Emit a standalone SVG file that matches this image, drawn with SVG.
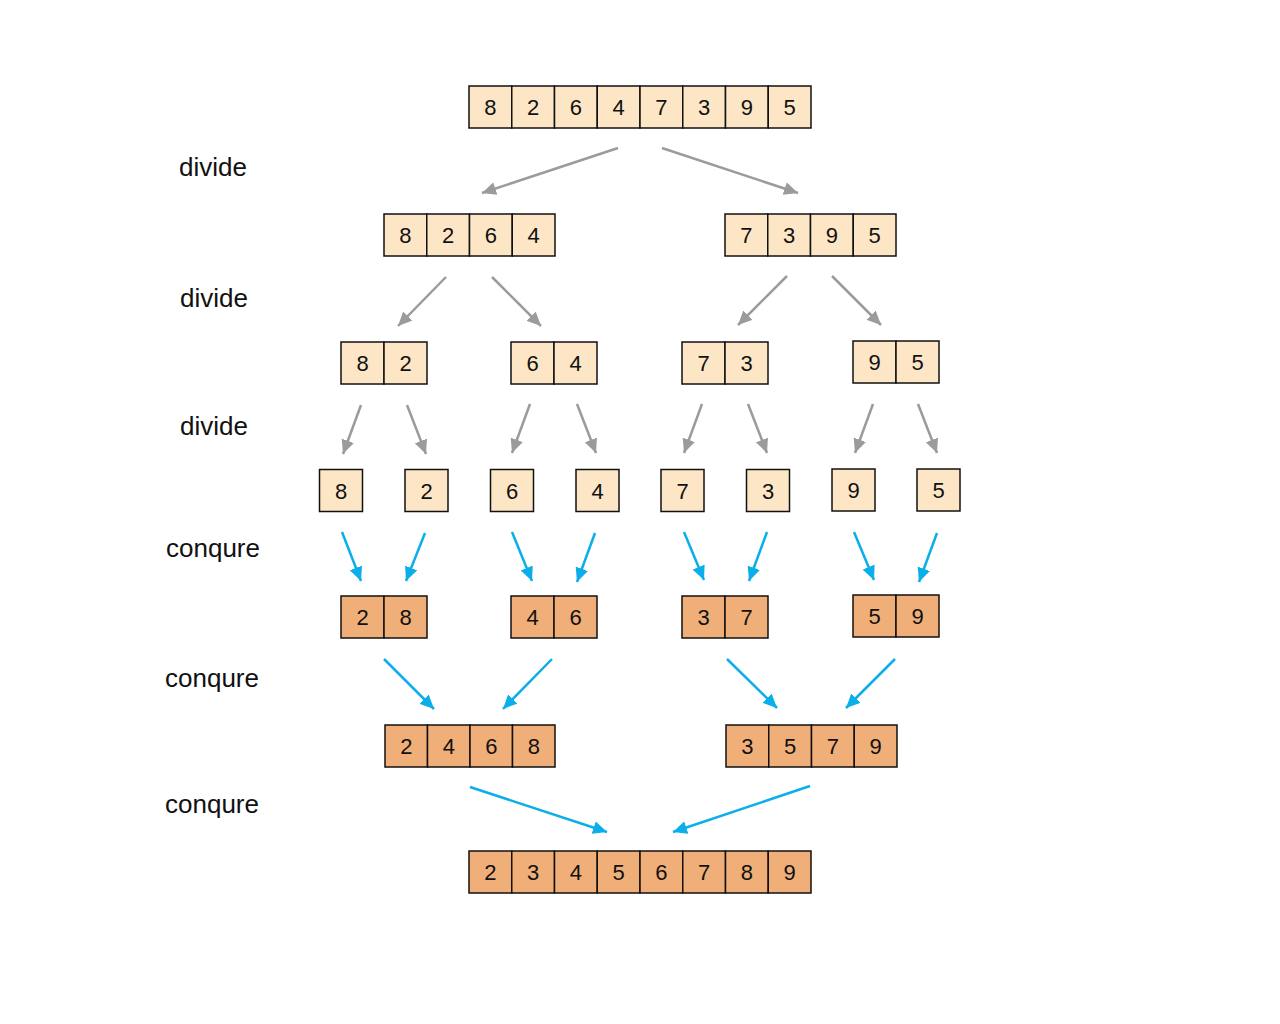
<svg xmlns="http://www.w3.org/2000/svg" width="1280" height="1024" viewBox="0 0 1280 1024">
<style>
.l{fill:#FDE6C6;stroke:#111;stroke-width:1.5}
.o{fill:#F0AE78;stroke:#111;stroke-width:1.5}
.d{font-family:"Liberation Sans",Arial,sans-serif;font-size:22px;fill:#111;text-anchor:middle}
.lab{font-family:"Liberation Sans",Arial,sans-serif;font-size:26px;fill:#111;text-anchor:middle}
.g{stroke:#9B9B9B;stroke-width:2.5;fill:none;marker-end:url(#ag)}
.b{stroke:#0AAEE8;stroke-width:2.5;fill:none;marker-end:url(#ab)}
</style>
<defs>
<marker id="ag" markerUnits="userSpaceOnUse" markerWidth="15" markerHeight="13" refX="14" refY="6.5" orient="auto"><path d="M0,0 L14,6.5 L0,13 Z" fill="#9B9B9B"/></marker>
<marker id="ab" markerUnits="userSpaceOnUse" markerWidth="15" markerHeight="13" refX="14" refY="6.5" orient="auto"><path d="M0,0 L14,6.5 L0,13 Z" fill="#0AAEE8"/></marker>
</defs>
<rect width="1280" height="1024" fill="#fff"/>
<g id="labels">
<text class="lab" x="213" y="176">divide</text>
<text class="lab" x="214" y="307">divide</text>
<text class="lab" x="214" y="435">divide</text>
<text class="lab" x="213" y="557">conqure</text>
<text class="lab" x="212" y="687">conqure</text>
<text class="lab" x="212" y="813">conqure</text>
</g>
<g id="n1">
<rect class="l" x="469" y="86" width="42.75" height="42"/><rect class="l" x="511.75" y="86" width="42.75" height="42"/><rect class="l" x="554.5" y="86" width="42.75" height="42"/><rect class="l" x="597.25" y="86" width="42.75" height="42"/><rect class="l" x="640" y="86" width="42.75" height="42"/><rect class="l" x="682.75" y="86" width="42.75" height="42"/><rect class="l" x="725.5" y="86" width="42.75" height="42"/><rect class="l" x="768.25" y="86" width="42.75" height="42"/>
<text class="d" x="490.4" y="115">8</text><text class="d" x="533.1" y="115">2</text><text class="d" x="575.9" y="115">6</text><text class="d" x="618.6" y="115">4</text><text class="d" x="661.4" y="115">7</text><text class="d" x="704.1" y="115">3</text><text class="d" x="746.9" y="115">9</text><text class="d" x="789.6" y="115">5</text>
</g>
<g id="n2a">
<rect class="l" x="384" y="214" width="42.75" height="42"/><rect class="l" x="426.75" y="214" width="42.75" height="42"/><rect class="l" x="469.5" y="214" width="42.75" height="42"/><rect class="l" x="512.25" y="214" width="42.75" height="42"/>
<text class="d" x="405.4" y="243">8</text><text class="d" x="448.1" y="243">2</text><text class="d" x="490.9" y="243">6</text><text class="d" x="533.6" y="243">4</text>
</g>
<g id="n2b">
<rect class="l" x="725" y="214" width="42.75" height="42"/><rect class="l" x="767.75" y="214" width="42.75" height="42"/><rect class="l" x="810.5" y="214" width="42.75" height="42"/><rect class="l" x="853.25" y="214" width="42.75" height="42"/>
<text class="d" x="746.4" y="243">7</text><text class="d" x="789.1" y="243">3</text><text class="d" x="831.9" y="243">9</text><text class="d" x="874.6" y="243">5</text>
</g>
<g id="n3a"><rect class="l" x="341" y="342" width="43" height="42"/><rect class="l" x="384" y="342" width="43" height="42"/><text class="d" x="362.5" y="371">8</text><text class="d" x="405.5" y="371">2</text></g>
<g id="n3b"><rect class="l" x="511" y="342" width="43" height="42"/><rect class="l" x="554" y="342" width="43" height="42"/><text class="d" x="532.5" y="371">6</text><text class="d" x="575.5" y="371">4</text></g>
<g id="n3c"><rect class="l" x="682" y="342" width="43" height="42"/><rect class="l" x="725" y="342" width="43" height="42"/><text class="d" x="703.5" y="371">7</text><text class="d" x="746.5" y="371">3</text></g>
<g id="n3d"><rect class="l" x="853" y="341" width="43" height="42"/><rect class="l" x="896" y="341" width="43" height="42"/><text class="d" x="874.5" y="370">9</text><text class="d" x="917.5" y="370">5</text></g>
<g id="n4a"><rect class="l" x="319.5" y="469.5" width="43" height="42"/><text class="d" x="341" y="498.5">8</text></g>
<g id="n4b"><rect class="l" x="405" y="469.5" width="43" height="42"/><text class="d" x="426.5" y="498.5">2</text></g>
<g id="n4c"><rect class="l" x="490.5" y="469.5" width="43" height="42"/><text class="d" x="512" y="498.5">6</text></g>
<g id="n4d"><rect class="l" x="576" y="469.5" width="43" height="42"/><text class="d" x="597.5" y="498.5">4</text></g>
<g id="n4e"><rect class="l" x="661" y="469.5" width="43" height="42"/><text class="d" x="682.5" y="498.5">7</text></g>
<g id="n4f"><rect class="l" x="746.5" y="469.5" width="43" height="42"/><text class="d" x="768" y="498.5">3</text></g>
<g id="n4g"><rect class="l" x="832" y="469" width="43" height="42"/><text class="d" x="853.5" y="498">9</text></g>
<g id="n4h"><rect class="l" x="917" y="469" width="43" height="42"/><text class="d" x="938.5" y="498">5</text></g>
<g id="n5a"><rect class="o" x="341" y="596" width="43" height="42"/><rect class="o" x="384" y="596" width="43" height="42"/><text class="d" x="362.5" y="625">2</text><text class="d" x="405.5" y="625">8</text></g>
<g id="n5b"><rect class="o" x="511" y="596" width="43" height="42"/><rect class="o" x="554" y="596" width="43" height="42"/><text class="d" x="532.5" y="625">4</text><text class="d" x="575.5" y="625">6</text></g>
<g id="n5c"><rect class="o" x="682" y="596" width="43" height="42"/><rect class="o" x="725" y="596" width="43" height="42"/><text class="d" x="703.5" y="625">3</text><text class="d" x="746.5" y="625">7</text></g>
<g id="n5d"><rect class="o" x="853" y="595" width="43" height="42"/><rect class="o" x="896" y="595" width="43" height="42"/><text class="d" x="874.5" y="624">5</text><text class="d" x="917.5" y="624">9</text></g>
<g id="n6a">
<rect class="o" x="385" y="725" width="42.5" height="42"/><rect class="o" x="427.5" y="725" width="42.5" height="42"/><rect class="o" x="470" y="725" width="42.5" height="42"/><rect class="o" x="512.5" y="725" width="42.5" height="42"/>
<text class="d" x="406.3" y="754">2</text><text class="d" x="448.8" y="754">4</text><text class="d" x="491.3" y="754">6</text><text class="d" x="533.8" y="754">8</text>
</g>
<g id="n6b">
<rect class="o" x="726" y="725" width="42.75" height="42"/><rect class="o" x="768.75" y="725" width="42.75" height="42"/><rect class="o" x="811.5" y="725" width="42.75" height="42"/><rect class="o" x="854.25" y="725" width="42.75" height="42"/>
<text class="d" x="747.4" y="754">3</text><text class="d" x="790.1" y="754">5</text><text class="d" x="832.9" y="754">7</text><text class="d" x="875.6" y="754">9</text>
</g>
<g id="n7">
<rect class="o" x="469" y="851" width="42.75" height="42"/><rect class="o" x="511.75" y="851" width="42.75" height="42"/><rect class="o" x="554.5" y="851" width="42.75" height="42"/><rect class="o" x="597.25" y="851" width="42.75" height="42"/><rect class="o" x="640" y="851" width="42.75" height="42"/><rect class="o" x="682.75" y="851" width="42.75" height="42"/><rect class="o" x="725.5" y="851" width="42.75" height="42"/><rect class="o" x="768.25" y="851" width="42.75" height="42"/>
<text class="d" x="490.4" y="880">2</text><text class="d" x="533.1" y="880">3</text><text class="d" x="575.9" y="880">4</text><text class="d" x="618.6" y="880">5</text><text class="d" x="661.4" y="880">6</text><text class="d" x="704.1" y="880">7</text><text class="d" x="746.9" y="880">8</text><text class="d" x="789.6" y="880">9</text>
</g>
<g id="connectors">
<line class="g" x1="618" y1="148" x2="482" y2="193"/>
<line class="g" x1="662" y1="148" x2="798" y2="193"/>
<line class="g" x1="446" y1="277" x2="398" y2="326"/>
<line class="g" x1="492" y1="277" x2="541" y2="326"/>
<line class="g" x1="787" y1="276" x2="738" y2="325"/>
<line class="g" x1="832" y1="276" x2="881" y2="325"/>
<line class="g" x1="361" y1="405" x2="343" y2="454"/>
<line class="g" x1="407" y1="405" x2="426" y2="454"/>
<line class="g" x1="530" y1="404" x2="512" y2="453"/>
<line class="g" x1="577" y1="404" x2="596" y2="453"/>
<line class="g" x1="702" y1="404" x2="684" y2="453"/>
<line class="g" x1="748" y1="404" x2="767" y2="453"/>
<line class="g" x1="873" y1="404" x2="855" y2="453"/>
<line class="g" x1="918" y1="404" x2="937" y2="453"/>
<line class="b" x1="342" y1="532" x2="361" y2="581"/>
<line class="b" x1="425" y1="533" x2="406" y2="581"/>
<line class="b" x1="512" y1="532" x2="532" y2="581"/>
<line class="b" x1="595" y1="533" x2="577" y2="582"/>
<line class="b" x1="684" y1="532" x2="704" y2="580"/>
<line class="b" x1="767" y1="532" x2="749" y2="581"/>
<line class="b" x1="854" y1="532" x2="874" y2="580"/>
<line class="b" x1="937" y1="533" x2="919" y2="582"/>
<line class="b" x1="384" y1="659" x2="434" y2="709"/>
<line class="b" x1="552" y1="659" x2="503" y2="709"/>
<line class="b" x1="727" y1="659" x2="777" y2="708"/>
<line class="b" x1="895" y1="659" x2="846" y2="708"/>
<line class="b" x1="470" y1="787" x2="607" y2="832"/>
<line class="b" x1="810" y1="786" x2="673" y2="832"/>
</g>
</svg>
